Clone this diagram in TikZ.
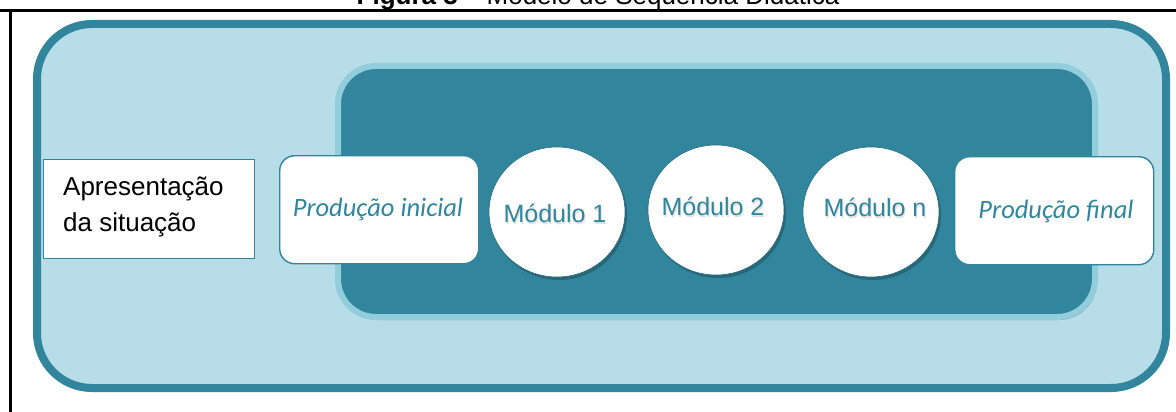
\documentclass[tikz,border=0pt]{standalone}
\usepackage{fontspec}
\setmainfont{Liberation Sans}
\newfontfamily\calib{Carlito}
\usetikzlibrary{shapes.geometric,shadows}

\definecolor{teal}{HTML}{31859C}
\definecolor{paleblue}{HTML}{B7DDE8}
\definecolor{midblue}{HTML}{92CDDC}

\tikzset{
  softshadow/.style={drop shadow={shadow xshift=2pt, shadow yshift=-3pt, opacity=0.22, fill=black}},
  outerpanel/.style={draw=teal, line width=8pt, fill=paleblue, rounded corners=55pt, softshadow},
  innerpanel/.style={draw=midblue, line width=6pt, fill=teal, rounded corners=38pt, softshadow},
  plainbox/.style={draw=teal, line width=0.9pt, fill=white, inner sep=0pt,
    minimum width=211pt, minimum height=99pt},
  prodbox/.style={draw=teal, line width=1.4pt, fill=white, rounded corners=15pt, inner sep=0pt,
    minimum width=199pt, minimum height=108pt},
  prodtext/.style={font=\calib\itshape\fontsize{26.5}{30}\selectfont, text=teal, inner sep=0pt},
  modcircle/.style={ellipse, draw=teal!80!black, line width=0.6pt, fill=white, inner sep=0pt,
    minimum width=136pt, minimum height=130pt, softshadow},
  modtext/.style={font=\fontsize{25}{30}\selectfont, text=teal, inner sep=0pt},
  modshade/.style={font=\fontsize{25}{30}\selectfont, text=black, opacity=0.12, inner sep=0pt},
  bodytext/.style={font=\fontsize{26}{36}\selectfont, inner sep=0pt},
}

\begin{document}
\begin{tikzpicture}[x=1pt, y=-1pt]
  \useasboundingbox (0,0) rectangle (1176,412);
  \fill[white] (0,0) rectangle (1176,412);

  % caption above the frame
  \node[anchor=base, inner sep=0pt, font=\fontsize{26}{30}\selectfont] (caption) at (598,5)
    {\textbf{Figura 3} -- Modelo de Sequência Didática};

  % frame lines
  \draw[line width=3pt] (0,10.5) -- (1176,10.5);
  \draw[line width=3pt] (10.5,10.5) -- (10.5,412);

  % panels
  \path[outerpanel] (37,24) rectangle (1166,388);
  \path[innerpanel] (338,66) rectangle (1095,317);

  % first step
  \node[plainbox, anchor=north west] (apres) at (43,159) {};
  \node[bodytext, anchor=base west] (apres1) at (63,195) {Apresentação};
  \node[bodytext, anchor=base west] (apres2) at (63,231) {da situação};

  % productions
  \node[prodbox, anchor=north west] (pinicial) at (279,155) {};
  \node[prodtext, anchor=base] (pinicialt) at (378,216) {Produção inicial};
  \node[prodbox, anchor=north west] (pfinal) at (954,156) {};
  \node[prodtext, anchor=base] (pfinalt) at (1056,218) {Produção final};

  % modules
  \node[modcircle] (m1) at (557,212) {};
  \node[modcircle] (m2) at (716,210) {};
  \node[modcircle] (mn) at (871,212) {};

  \node[modshade, anchor=base] (m1s) at (556,224) {Módulo 1};
  \node[modtext, anchor=base] (m1t) at (555,222) {Módulo 1};
  \node[modshade, anchor=base] (m2s) at (714,217) {Módulo 2};
  \node[modtext, anchor=base] (m2t) at (713,215) {Módulo 2};
  \node[modshade, anchor=base] (mns) at (876,218) {Módulo n};
  \node[modtext, anchor=base] (mnt) at (875,216) {Módulo n};
\end{tikzpicture}
\end{document}
